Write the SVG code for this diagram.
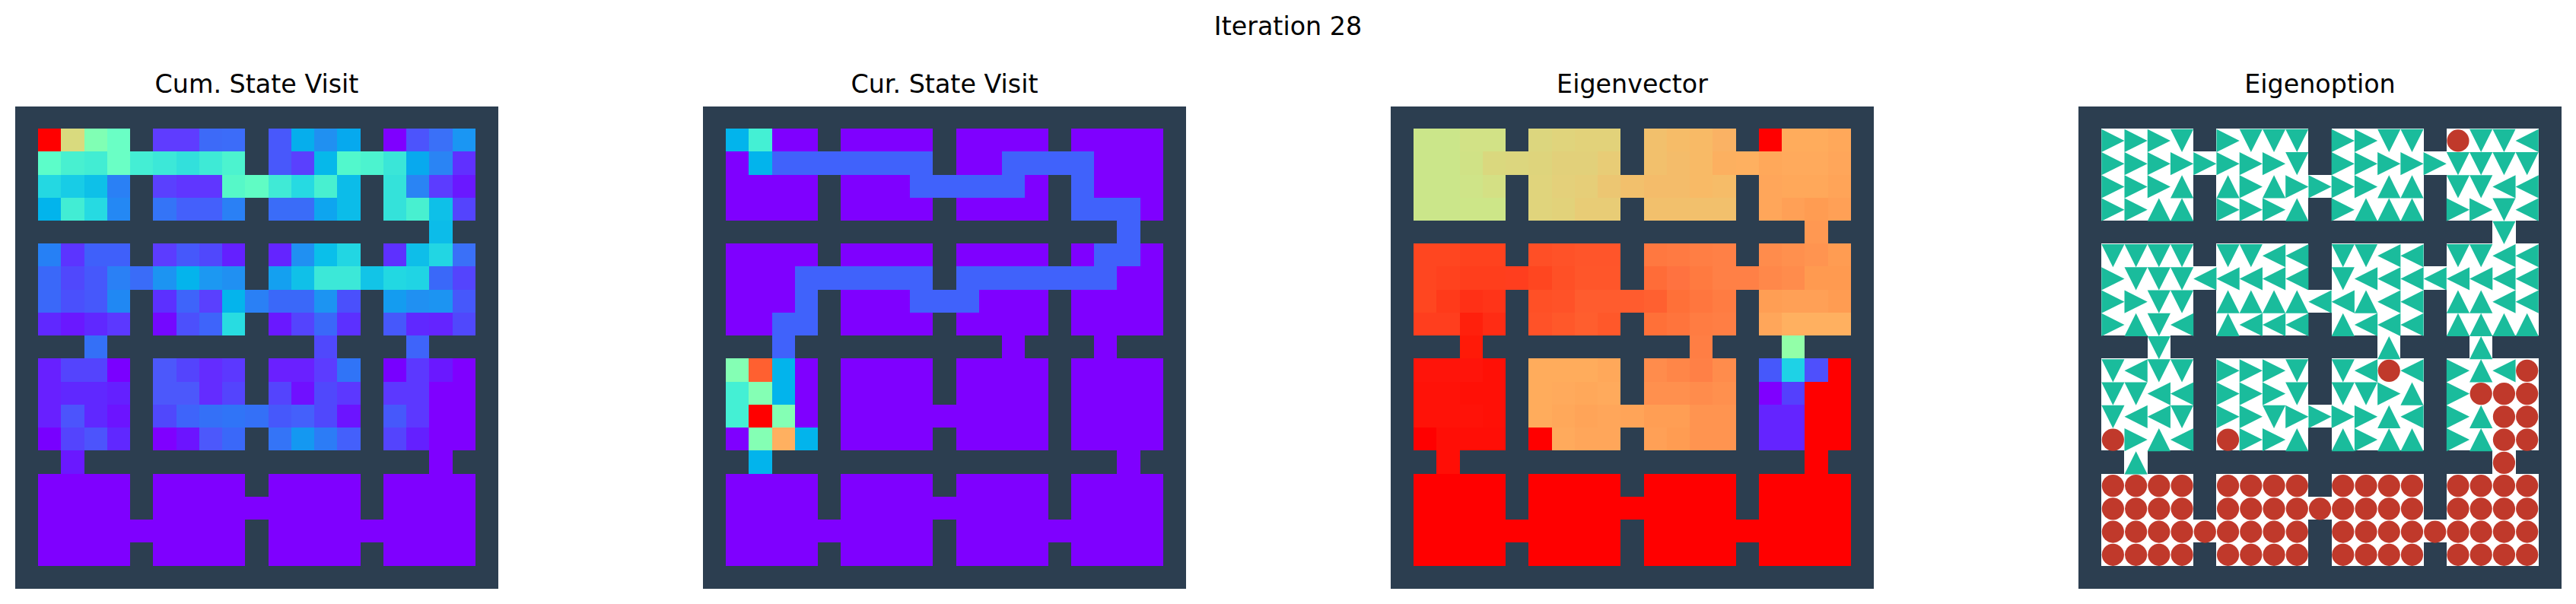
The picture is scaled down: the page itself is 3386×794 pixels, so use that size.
<svg xmlns="http://www.w3.org/2000/svg" width="3386" height="794" viewBox="0 0 3386 794">
<style>
text{font-family:"DejaVu Sans",sans-serif;font-size:33.33px;fill:#000;text-anchor:middle}
.wall{fill:#2c3e50}
.grid{shape-rendering:crispEdges}
.tri{fill:#1abc9c}
.dot{fill:#c0392b}
</style>
<defs>
<rect id="c" width="1" height="1"/>
<g id="floor">
<rect x="1" y="1" width="4" height="4"/><rect x="6" y="1" width="4" height="4"/><rect x="11" y="1" width="4" height="4"/><rect x="16" y="1" width="4" height="4"/>
<rect x="1" y="6" width="4" height="4"/><rect x="6" y="6" width="4" height="4"/><rect x="11" y="6" width="4" height="4"/><rect x="16" y="6" width="4" height="4"/>
<rect x="1" y="11" width="4" height="4"/><rect x="6" y="11" width="4" height="4"/><rect x="11" y="11" width="4" height="4"/><rect x="16" y="11" width="4" height="4"/>
<rect x="1" y="16" width="4" height="4"/><rect x="6" y="16" width="4" height="4"/><rect x="11" y="16" width="4" height="4"/><rect x="16" y="16" width="4" height="4"/>
<rect x="5" y="2" width="1" height="1"/><rect x="15" y="2" width="1" height="1"/><rect x="10" y="3" width="1" height="1"/><rect x="18" y="5" width="1" height="1"/>
<rect x="5" y="7" width="1" height="1"/><rect x="15" y="7" width="1" height="1"/><rect x="10" y="8" width="1" height="1"/>
<rect x="3" y="10" width="1" height="1"/><rect x="13" y="10" width="1" height="1"/><rect x="17" y="10" width="1" height="1"/>
<rect x="10" y="13" width="1" height="1"/><rect x="2" y="15" width="1" height="1"/><rect x="18" y="15" width="1" height="1"/>
<rect x="10" y="17" width="1" height="1"/><rect x="5" y="18" width="1" height="1"/><rect x="15" y="18" width="1" height="1"/>
</g>
<polygon id="R" class="tri" points="-0.5,-0.5 0.5,0 -0.5,0.5"/>
<polygon id="L" class="tri" points="0.5,-0.5 -0.5,0 0.5,0.5"/>
<polygon id="D" class="tri" points="-0.5,-0.5 0.5,-0.5 0,0.5"/>
<polygon id="U" class="tri" points="-0.5,0.5 0.5,0.5 0,-0.5"/>
<circle id="O" class="dot" r="0.483"/>
</defs>
<rect width="3386" height="794" fill="#fff"/>
<text id="suptitle" x="1693" y="45.5">Iteration 28</text>

<g id="panel-cum-state-visit">
<text x="337.5" y="122">Cum. State Visit</text>
<rect class="wall" x="20" y="140" width="635" height="634"/>
<g class="grid" transform="translate(20,138.8) scale(30.24)">
<use href="#floor" fill="#7f00ff"/>
<use href="#c" x="1" y="1" fill="#ff0000"/><use href="#c" x="2" y="1" fill="#d9da7e"/><use href="#c" x="3" y="1" fill="#80ffb4"/><use href="#c" x="4" y="1" fill="#6affc5"/>
<use href="#c" x="6" y="1" fill="#5f3cff"/><use href="#c" x="7" y="1" fill="#5f3cff"/><use href="#c" x="8" y="1" fill="#3d6af8"/><use href="#c" x="9" y="1" fill="#3c6cf9"/>
<use href="#c" x="11" y="1" fill="#4858fb"/><use href="#c" x="12" y="1" fill="#06aeec"/><use href="#c" x="13" y="1" fill="#2090f1"/><use href="#c" x="14" y="1" fill="#06a9ee"/>
<use href="#c" x="16" y="1" fill="#7f00ff"/><use href="#c" x="17" y="1" fill="#4c54fc"/><use href="#c" x="18" y="1" fill="#3a70f8"/><use href="#c" x="19" y="1" fill="#1a96f3"/>
<use href="#c" x="1" y="2" fill="#5cfdc9"/><use href="#c" x="2" y="2" fill="#48f0d0"/><use href="#c" x="3" y="2" fill="#42edd3"/><use href="#c" x="4" y="2" fill="#6affc5"/><use href="#c" x="5" y="2" fill="#44eed4"/>
<use href="#c" x="6" y="2" fill="#3ce8d8"/><use href="#c" x="7" y="2" fill="#32e0dc"/><use href="#c" x="8" y="2" fill="#3eead6"/><use href="#c" x="9" y="2" fill="#4cf3cf"/>
<use href="#c" x="11" y="2" fill="#4858fb"/><use href="#c" x="12" y="2" fill="#5a40fe"/><use href="#c" x="13" y="2" fill="#06b8ea"/><use href="#c" x="14" y="2" fill="#52f8cc"/><use href="#c" x="15" y="2" fill="#4cf3cf"/>
<use href="#c" x="16" y="2" fill="#3ae6d8"/><use href="#c" x="17" y="2" fill="#08a9ee"/><use href="#c" x="18" y="2" fill="#2a84f4"/><use href="#c" x="19" y="2" fill="#6030ff"/>
<use href="#c" x="1" y="3" fill="#24d8e2"/><use href="#c" x="2" y="3" fill="#18cce6"/><use href="#c" x="3" y="3" fill="#0ec0e8"/><use href="#c" x="4" y="3" fill="#2a80f5"/>
<use href="#c" x="6" y="3" fill="#5a40fe"/><use href="#c" x="7" y="3" fill="#6036ff"/><use href="#c" x="8" y="3" fill="#6036ff"/><use href="#c" x="9" y="3" fill="#56f8c8"/><use href="#c" x="10" y="3" fill="#60fcc4"/>
<use href="#c" x="11" y="3" fill="#40ead6"/><use href="#c" x="12" y="3" fill="#26dae2"/><use href="#c" x="13" y="3" fill="#48f0d0"/><use href="#c" x="14" y="3" fill="#0cbce9"/>
<use href="#c" x="16" y="3" fill="#34e2da"/><use href="#c" x="17" y="3" fill="#2a84f4"/><use href="#c" x="18" y="3" fill="#5c3cff"/><use href="#c" x="19" y="3" fill="#6a18ff"/>
<use href="#c" x="1" y="4" fill="#02b4ec"/><use href="#c" x="2" y="4" fill="#42edd4"/><use href="#c" x="3" y="4" fill="#26dae2"/><use href="#c" x="4" y="4" fill="#2488f4"/>
<use href="#c" x="6" y="4" fill="#3474f7"/><use href="#c" x="7" y="4" fill="#4460fb"/><use href="#c" x="8" y="4" fill="#4460fb"/><use href="#c" x="9" y="4" fill="#2a80f5"/>
<use href="#c" x="11" y="4" fill="#3a6cf8"/><use href="#c" x="12" y="4" fill="#3a6cf8"/><use href="#c" x="13" y="4" fill="#0ea5ef"/><use href="#c" x="14" y="4" fill="#0cbce9"/>
<use href="#c" x="16" y="4" fill="#34e2da"/><use href="#c" x="17" y="4" fill="#48f0d0"/><use href="#c" x="18" y="4" fill="#0ec0e8"/><use href="#c" x="19" y="4" fill="#5444fd"/>
<use href="#c" x="18" y="5" fill="#0cbce9"/>
<use href="#c" x="1" y="6" fill="#2680f5"/><use href="#c" x="2" y="6" fill="#5c34ff"/><use href="#c" x="3" y="6" fill="#3f60fa"/><use href="#c" x="4" y="6" fill="#3f60fa"/>
<use href="#c" x="6" y="6" fill="#5c3cff"/><use href="#c" x="7" y="6" fill="#4658fb"/><use href="#c" x="8" y="6" fill="#5048fc"/><use href="#c" x="9" y="6" fill="#6420ff"/>
<use href="#c" x="11" y="6" fill="#6424ff"/><use href="#c" x="12" y="6" fill="#2090f2"/><use href="#c" x="13" y="6" fill="#0abfea"/><use href="#c" x="14" y="6" fill="#22d6e3"/>
<use href="#c" x="16" y="6" fill="#5e30ff"/><use href="#c" x="17" y="6" fill="#0ebee9"/><use href="#c" x="18" y="6" fill="#22d6e3"/><use href="#c" x="19" y="6" fill="#3a70f8"/>
<use href="#c" x="1" y="7" fill="#3a68f9"/><use href="#c" x="2" y="7" fill="#5048fc"/><use href="#c" x="3" y="7" fill="#4658fb"/><use href="#c" x="4" y="7" fill="#2a80f5"/><use href="#c" x="5" y="7" fill="#3a6cf8"/>
<use href="#c" x="6" y="7" fill="#1c94f2"/><use href="#c" x="7" y="7" fill="#04b4ec"/><use href="#c" x="8" y="7" fill="#1c98f2"/><use href="#c" x="9" y="7" fill="#2090f2"/>
<use href="#c" x="11" y="7" fill="#14a0f0"/><use href="#c" x="12" y="7" fill="#10c0e8"/><use href="#c" x="13" y="7" fill="#3ce8d8"/><use href="#c" x="14" y="7" fill="#3ce8d8"/><use href="#c" x="15" y="7" fill="#12c4e7"/>
<use href="#c" x="16" y="7" fill="#22d8e2"/><use href="#c" x="17" y="7" fill="#20d4e4"/><use href="#c" x="18" y="7" fill="#3a68f9"/><use href="#c" x="19" y="7" fill="#5444fd"/>
<use href="#c" x="1" y="8" fill="#3a68f9"/><use href="#c" x="2" y="8" fill="#4a50fc"/><use href="#c" x="3" y="8" fill="#4658fb"/><use href="#c" x="4" y="8" fill="#2088f3"/>
<use href="#c" x="6" y="8" fill="#5c30ff"/><use href="#c" x="7" y="8" fill="#3e64fa"/><use href="#c" x="8" y="8" fill="#5a40fe"/><use href="#c" x="9" y="8" fill="#04b4ec"/><use href="#c" x="10" y="8" fill="#2a80f5"/>
<use href="#c" x="11" y="8" fill="#3a68f9"/><use href="#c" x="12" y="8" fill="#3a68f9"/><use href="#c" x="13" y="8" fill="#1c94f2"/><use href="#c" x="14" y="8" fill="#4a50fc"/>
<use href="#c" x="16" y="8" fill="#149cf0"/><use href="#c" x="17" y="8" fill="#2090f2"/><use href="#c" x="18" y="8" fill="#1c94f2"/><use href="#c" x="19" y="8" fill="#4658fb"/>
<use href="#c" x="1" y="9" fill="#6028ff"/><use href="#c" x="2" y="9" fill="#6a18ff"/><use href="#c" x="3" y="9" fill="#6028ff"/><use href="#c" x="4" y="9" fill="#5c38ff"/>
<use href="#c" x="6" y="9" fill="#7408ff"/><use href="#c" x="7" y="9" fill="#4c50fc"/><use href="#c" x="8" y="9" fill="#3e64fa"/><use href="#c" x="9" y="9" fill="#28dce1"/>
<use href="#c" x="11" y="9" fill="#6a18ff"/><use href="#c" x="12" y="9" fill="#5444fd"/><use href="#c" x="13" y="9" fill="#3a68f9"/><use href="#c" x="14" y="9" fill="#5c30ff"/>
<use href="#c" x="16" y="9" fill="#4658fb"/><use href="#c" x="17" y="9" fill="#6028ff"/><use href="#c" x="18" y="9" fill="#6424ff"/><use href="#c" x="19" y="9" fill="#5048fc"/>
<use href="#c" x="3" y="10" fill="#3470f7"/><use href="#c" x="13" y="10" fill="#5048fc"/><use href="#c" x="17" y="10" fill="#3e64fa"/>
<use href="#c" x="1" y="11" fill="#6820ff"/><use href="#c" x="2" y="11" fill="#5444fd"/><use href="#c" x="3" y="11" fill="#5444fd"/><use href="#c" x="4" y="11" fill="#7a00ff"/>
<use href="#c" x="6" y="11" fill="#4c58fb"/><use href="#c" x="7" y="11" fill="#5444fd"/><use href="#c" x="8" y="11" fill="#642cff"/><use href="#c" x="9" y="11" fill="#5c38ff"/>
<use href="#c" x="11" y="11" fill="#6a20ff"/><use href="#c" x="12" y="11" fill="#6a20ff"/><use href="#c" x="13" y="11" fill="#5c3cff"/><use href="#c" x="14" y="11" fill="#3074f7"/>
<use href="#c" x="16" y="11" fill="#7800ff"/><use href="#c" x="17" y="11" fill="#5c38ff"/><use href="#c" x="18" y="11" fill="#6a18ff"/>
<use href="#c" x="1" y="12" fill="#6820ff"/><use href="#c" x="2" y="12" fill="#6028ff"/><use href="#c" x="3" y="12" fill="#6028ff"/><use href="#c" x="4" y="12" fill="#6420ff"/>
<use href="#c" x="6" y="12" fill="#4c58fb"/><use href="#c" x="7" y="12" fill="#4c58fb"/><use href="#c" x="8" y="12" fill="#642cff"/><use href="#c" x="9" y="12" fill="#5444fd"/>
<use href="#c" x="11" y="12" fill="#5444fd"/><use href="#c" x="12" y="12" fill="#7010ff"/><use href="#c" x="13" y="12" fill="#5048fc"/><use href="#c" x="14" y="12" fill="#5c38ff"/>
<use href="#c" x="16" y="12" fill="#5c38ff"/><use href="#c" x="17" y="12" fill="#5c38ff"/>
<use href="#c" x="1" y="13" fill="#6820ff"/><use href="#c" x="2" y="13" fill="#4c54fc"/><use href="#c" x="3" y="13" fill="#6028ff"/><use href="#c" x="4" y="13" fill="#6c14ff"/>
<use href="#c" x="6" y="13" fill="#5048fc"/><use href="#c" x="7" y="13" fill="#3e64fa"/><use href="#c" x="8" y="13" fill="#3470f7"/><use href="#c" x="9" y="13" fill="#3074f7"/><use href="#c" x="10" y="13" fill="#3470f7"/>
<use href="#c" x="11" y="13" fill="#4658fb"/><use href="#c" x="12" y="13" fill="#4460fb"/><use href="#c" x="13" y="13" fill="#5048fc"/><use href="#c" x="14" y="13" fill="#6c14ff"/>
<use href="#c" x="16" y="13" fill="#4658fb"/><use href="#c" x="17" y="13" fill="#5c38ff"/>
<use href="#c" x="1" y="14" fill="#7800ff"/><use href="#c" x="2" y="14" fill="#5444fd"/><use href="#c" x="3" y="14" fill="#4c54fc"/><use href="#c" x="4" y="14" fill="#6028ff"/>
<use href="#c" x="7" y="14" fill="#6c14ff"/><use href="#c" x="8" y="14" fill="#4c58fb"/><use href="#c" x="9" y="14" fill="#3a68f9"/>
<use href="#c" x="11" y="14" fill="#3474f7"/><use href="#c" x="12" y="14" fill="#1498f1"/><use href="#c" x="13" y="14" fill="#2c7cf6"/><use href="#c" x="14" y="14" fill="#4460fb"/>
<use href="#c" x="16" y="14" fill="#5444fd"/><use href="#c" x="17" y="14" fill="#6420ff"/>
<use href="#c" x="2" y="15" fill="#6a18ff"/>
</g>
</g>

<g id="panel-cur-state-visit">
<text x="1241.5" y="122">Cur. State Visit</text>
<rect class="wall" x="924" y="140" width="635" height="634"/>
<g class="grid" transform="translate(924,138.8) scale(30.24)">
<use href="#floor" fill="#7f00ff"/>
<g fill="#4062fb">
<rect x="3" y="2" width="7" height="1"/><rect x="13" y="2" width="4" height="1"/>
<rect x="9" y="3" width="5" height="1"/><rect x="16" y="3" width="1" height="1"/>
<rect x="16" y="4" width="3" height="1"/><rect x="18" y="5" width="1" height="1"/><rect x="17" y="6" width="2" height="1"/>
<rect x="4" y="7" width="6" height="1"/><rect x="11" y="7" width="7" height="1"/>
<rect x="4" y="8" width="1" height="1"/><rect x="9" y="8" width="3" height="1"/>
<rect x="3" y="9" width="2" height="1"/><rect x="3" y="10" width="1" height="1"/>
</g>
<g fill="#02b4ec"><use href="#c" x="1" y="1"/><use href="#c" x="2" y="2"/><use href="#c" x="3" y="11"/><use href="#c" x="3" y="12"/><use href="#c" x="4" y="14"/><use href="#c" x="2" y="15"/></g>
<g fill="#44f0d4"><use href="#c" x="2" y="1"/><use href="#c" x="1" y="12"/><use href="#c" x="1" y="13"/></g>
<g fill="#84ffb4"><use href="#c" x="1" y="11"/><use href="#c" x="2" y="12"/><use href="#c" x="3" y="13"/><use href="#c" x="2" y="14"/></g>
<use href="#c" x="2" y="11" fill="#ff6030"/><use href="#c" x="2" y="13" fill="#ff0000"/><use href="#c" x="3" y="14" fill="#ffb060"/>
</g>
</g>

<g id="panel-eigenvector">
<text x="2145.5" y="122">Eigenvector</text>
<rect class="wall" x="1828" y="140" width="635" height="634"/>
<g class="grid" transform="translate(1828,138.8) scale(30.24)">
<use href="#floor" fill="#ff0000"/>
<use href="#c" x="1" y="1" fill="#cbe68a"/><use href="#c" x="2" y="1" fill="#cbe68a"/><use href="#c" x="3" y="1" fill="#d2e286"/><use href="#c" x="4" y="1" fill="#d2e286"/>
<use href="#c" x="6" y="1" fill="#dcd67e"/><use href="#c" x="7" y="1" fill="#e0d47c"/><use href="#c" x="8" y="1" fill="#e2d27a"/><use href="#c" x="9" y="1" fill="#e2d27a"/>
<use href="#c" x="11" y="1" fill="#f2c06c"/><use href="#c" x="12" y="1" fill="#f6bc68"/><use href="#c" x="13" y="1" fill="#f8ba66"/><use href="#c" x="14" y="1" fill="#fab264"/>
<use href="#c" x="17" y="1" fill="#ffac5c"/><use href="#c" x="18" y="1" fill="#ffac5c"/><use href="#c" x="19" y="1" fill="#ffa85a"/>
<use href="#c" x="1" y="2" fill="#cbe68a"/><use href="#c" x="2" y="2" fill="#cbe68a"/><use href="#c" x="3" y="2" fill="#d0e286"/><use href="#c" x="4" y="2" fill="#dad87e"/><use href="#c" x="5" y="2" fill="#dcd67e"/>
<use href="#c" x="6" y="2" fill="#ded47c"/><use href="#c" x="7" y="2" fill="#e2d07a"/><use href="#c" x="8" y="2" fill="#e2d07a"/><use href="#c" x="9" y="2" fill="#e8cc76"/>
<use href="#c" x="11" y="2" fill="#f2c06c"/><use href="#c" x="12" y="2" fill="#f4bc6a"/><use href="#c" x="13" y="2" fill="#f8ba66"/><use href="#c" x="14" y="2" fill="#fcb060"/><use href="#c" x="15" y="2" fill="#feb060"/>
<use href="#c" x="16" y="2" fill="#ffa85a"/><use href="#c" x="17" y="2" fill="#ffaa5c"/><use href="#c" x="18" y="2" fill="#ffaa5c"/><use href="#c" x="19" y="2" fill="#ffa65a"/>
<use href="#c" x="1" y="3" fill="#cbe68a"/><use href="#c" x="2" y="3" fill="#cbe68a"/><use href="#c" x="3" y="3" fill="#cfe488"/><use href="#c" x="4" y="3" fill="#d4e084"/>
<use href="#c" x="6" y="3" fill="#e0d47c"/><use href="#c" x="7" y="3" fill="#e4d07a"/><use href="#c" x="8" y="3" fill="#e6ce78"/><use href="#c" x="9" y="3" fill="#ecc672"/><use href="#c" x="10" y="3" fill="#f2c06c"/>
<use href="#c" x="11" y="3" fill="#f4bc6a"/><use href="#c" x="12" y="3" fill="#f4bc6a"/><use href="#c" x="13" y="3" fill="#f8ba66"/><use href="#c" x="14" y="3" fill="#f6bc68"/>
<use href="#c" x="16" y="3" fill="#ffa65a"/><use href="#c" x="17" y="3" fill="#ffa85a"/><use href="#c" x="18" y="3" fill="#ffa85a"/><use href="#c" x="19" y="3" fill="#ffa458"/>
<use href="#c" x="1" y="4" fill="#cbe68a"/><use href="#c" x="2" y="4" fill="#cbe68a"/><use href="#c" x="3" y="4" fill="#cde688"/><use href="#c" x="4" y="4" fill="#cde688"/>
<use href="#c" x="6" y="4" fill="#e0d47c"/><use href="#c" x="7" y="4" fill="#e2d27a"/><use href="#c" x="8" y="4" fill="#e8cc76"/><use href="#c" x="9" y="4" fill="#e8cc76"/>
<use href="#c" x="11" y="4" fill="#f2c06c"/><use href="#c" x="12" y="4" fill="#f2c06c"/><use href="#c" x="13" y="4" fill="#f2c06c"/><use href="#c" x="14" y="4" fill="#f2c06c"/>
<use href="#c" x="16" y="4" fill="#ffa65a"/><use href="#c" x="17" y="4" fill="#ffa056"/><use href="#c" x="18" y="4" fill="#ff9c52"/><use href="#c" x="19" y="4" fill="#ffa056"/>
<use href="#c" x="18" y="5" fill="#ff9852"/>
<use href="#c" x="1" y="6" fill="#ff4620"/><use href="#c" x="2" y="6" fill="#ff4620"/><use href="#c" x="3" y="6" fill="#ff421e"/><use href="#c" x="4" y="6" fill="#ff421e"/>
<use href="#c" x="6" y="6" fill="#ff4f26"/><use href="#c" x="7" y="6" fill="#ff5228"/><use href="#c" x="8" y="6" fill="#ff552a"/><use href="#c" x="9" y="6" fill="#ff552a"/>
<use href="#c" x="11" y="6" fill="#ff7840"/><use href="#c" x="12" y="6" fill="#ff7a42"/><use href="#c" x="13" y="6" fill="#ff7e44"/><use href="#c" x="14" y="6" fill="#ff8046"/>
<use href="#c" x="16" y="6" fill="#ff8c4c"/><use href="#c" x="17" y="6" fill="#ff904e"/><use href="#c" x="18" y="6" fill="#ff9450"/><use href="#c" x="19" y="6" fill="#ff9c52"/>
<use href="#c" x="1" y="7" fill="#ff4620"/><use href="#c" x="2" y="7" fill="#ff421e"/><use href="#c" x="3" y="7" fill="#ff3e1c"/><use href="#c" x="4" y="7" fill="#ff3e1c"/><use href="#c" x="5" y="7" fill="#ff3e1e"/>
<use href="#c" x="6" y="7" fill="#ff4620"/><use href="#c" x="7" y="7" fill="#ff5026"/><use href="#c" x="8" y="7" fill="#ff562a"/><use href="#c" x="9" y="7" fill="#ff562a"/>
<use href="#c" x="11" y="7" fill="#ff6c38"/><use href="#c" x="12" y="7" fill="#ff7240"/><use href="#c" x="13" y="7" fill="#ff7a40"/><use href="#c" x="14" y="7" fill="#ff8046"/><use href="#c" x="15" y="7" fill="#ff8046"/>
<use href="#c" x="16" y="7" fill="#ff884a"/><use href="#c" x="17" y="7" fill="#ff8c4c"/><use href="#c" x="18" y="7" fill="#ff9a50"/><use href="#c" x="19" y="7" fill="#ff9a50"/>
<use href="#c" x="1" y="8" fill="#ff4620"/><use href="#c" x="2" y="8" fill="#ff3a1a"/><use href="#c" x="3" y="8" fill="#ff3016"/><use href="#c" x="4" y="8" fill="#ff3418"/>
<use href="#c" x="6" y="8" fill="#ff5026"/><use href="#c" x="7" y="8" fill="#ff5228"/><use href="#c" x="8" y="8" fill="#ff5c2e"/><use href="#c" x="9" y="8" fill="#ff5c2e"/><use href="#c" x="10" y="8" fill="#ff5c2e"/>
<use href="#c" x="11" y="8" fill="#ff6030"/><use href="#c" x="12" y="8" fill="#ff7038"/><use href="#c" x="13" y="8" fill="#ff763e"/><use href="#c" x="14" y="8" fill="#ff7c42"/>
<use href="#c" x="16" y="8" fill="#ff9e54"/><use href="#c" x="17" y="8" fill="#ffa056"/><use href="#c" x="18" y="8" fill="#ffa056"/><use href="#c" x="19" y="8" fill="#ff9c52"/>
<use href="#c" x="1" y="9" fill="#ff3e1e"/><use href="#c" x="2" y="9" fill="#ff3e1e"/><use href="#c" x="3" y="9" fill="#ff200c"/><use href="#c" x="4" y="9" fill="#ff2c14"/>
<use href="#c" x="6" y="9" fill="#ff5228"/><use href="#c" x="7" y="9" fill="#ff582a"/><use href="#c" x="8" y="9" fill="#ff5e2e"/><use href="#c" x="9" y="9" fill="#ff582a"/>
<use href="#c" x="11" y="9" fill="#ff7038"/><use href="#c" x="12" y="9" fill="#ff743c"/><use href="#c" x="13" y="9" fill="#ff7c42"/><use href="#c" x="14" y="9" fill="#ff7e44"/>
<use href="#c" x="16" y="9" fill="#ffa65a"/><use href="#c" x="17" y="9" fill="#ffb060"/><use href="#c" x="18" y="9" fill="#ffb060"/><use href="#c" x="19" y="9" fill="#ffb060"/>
<use href="#c" x="3" y="10" fill="#ff1a08"/><use href="#c" x="13" y="10" fill="#ff7e44"/><use href="#c" x="17" y="10" fill="#92ffa8"/>
<use href="#c" x="1" y="11" fill="#ff140a"/><use href="#c" x="2" y="11" fill="#ff140a"/><use href="#c" x="3" y="11" fill="#ff140a"/><use href="#c" x="4" y="11" fill="#ff1006"/>
<use href="#c" x="6" y="11" fill="#ffac5c"/><use href="#c" x="7" y="11" fill="#ffac5c"/><use href="#c" x="8" y="11" fill="#ffac5c"/><use href="#c" x="9" y="11" fill="#ffa85a"/>
<use href="#c" x="11" y="11" fill="#ff8c4c"/><use href="#c" x="12" y="11" fill="#ff8648"/><use href="#c" x="13" y="11" fill="#ff8046"/><use href="#c" x="14" y="11" fill="#ff8c4c"/>
<use href="#c" x="16" y="11" fill="#4658fb"/><use href="#c" x="17" y="11" fill="#1ed2e6"/><use href="#c" x="18" y="11" fill="#4e50fc"/>
<use href="#c" x="1" y="12" fill="#ff1208"/><use href="#c" x="2" y="12" fill="#ff1208"/><use href="#c" x="3" y="12" fill="#ff1006"/><use href="#c" x="4" y="12" fill="#ff1006"/>
<use href="#c" x="6" y="12" fill="#ffac5c"/><use href="#c" x="7" y="12" fill="#ffaa5c"/><use href="#c" x="8" y="12" fill="#ffa85a"/><use href="#c" x="9" y="12" fill="#ffaa5c"/>
<use href="#c" x="11" y="12" fill="#ff904e"/><use href="#c" x="12" y="12" fill="#ff904e"/><use href="#c" x="13" y="12" fill="#ff8c4c"/><use href="#c" x="14" y="12" fill="#ff904e"/>
<use href="#c" x="16" y="12" fill="#7f00ff"/><use href="#c" x="17" y="12" fill="#5440fd"/>
<use href="#c" x="1" y="13" fill="#ff1208"/><use href="#c" x="2" y="13" fill="#ff1208"/><use href="#c" x="3" y="13" fill="#ff1208"/><use href="#c" x="4" y="13" fill="#ff1006"/>
<use href="#c" x="6" y="13" fill="#ffac5c"/><use href="#c" x="7" y="13" fill="#ffa85a"/><use href="#c" x="8" y="13" fill="#ffa458"/><use href="#c" x="9" y="13" fill="#ffa65a"/><use href="#c" x="10" y="13" fill="#ffa458"/>
<use href="#c" x="11" y="13" fill="#ff9e54"/><use href="#c" x="12" y="13" fill="#ff9e54"/><use href="#c" x="13" y="13" fill="#ff9450"/><use href="#c" x="14" y="13" fill="#ff9450"/>
<use href="#c" x="16" y="13" fill="#6424ff"/><use href="#c" x="17" y="13" fill="#6424ff"/>
<use href="#c" x="2" y="14" fill="#ff0e06"/><use href="#c" x="3" y="14" fill="#ff0e06"/><use href="#c" x="4" y="14" fill="#ff0e06"/>
<use href="#c" x="7" y="14" fill="#ffaa5c"/><use href="#c" x="8" y="14" fill="#ffa65a"/><use href="#c" x="9" y="14" fill="#ffa65a"/>
<use href="#c" x="11" y="14" fill="#ffa056"/><use href="#c" x="12" y="14" fill="#ff9c52"/><use href="#c" x="13" y="14" fill="#ff9450"/><use href="#c" x="14" y="14" fill="#ff9450"/>
<use href="#c" x="16" y="14" fill="#6424ff"/><use href="#c" x="17" y="14" fill="#6424ff"/>
<use href="#c" x="2" y="15" fill="#ff0e06"/>
</g>
</g>

<g id="panel-eigenoption">
<text x="3049.5" y="122">Eigenoption</text>
<rect class="wall" x="2732" y="140" width="635" height="634"/>
<g class="grid" transform="translate(2732,138.8) scale(30.24)"><use href="#floor" fill="#fff"/></g>
<g transform="translate(2732,139.6) scale(30.24)">
<use href="#R" x="1.5" y="1.5"/><use href="#R" x="2.5" y="1.5"/><use href="#R" x="3.5" y="1.5"/><use href="#D" x="4.5" y="1.5"/>
<use href="#R" x="6.5" y="1.5"/><use href="#D" x="7.5" y="1.5"/><use href="#D" x="8.5" y="1.5"/><use href="#D" x="9.5" y="1.5"/>
<use href="#R" x="11.5" y="1.5"/><use href="#R" x="12.5" y="1.5"/><use href="#D" x="13.5" y="1.5"/><use href="#D" x="14.5" y="1.5"/>
<use href="#O" x="16.5" y="1.5"/><use href="#D" x="17.5" y="1.5"/><use href="#D" x="18.5" y="1.5"/><use href="#L" x="19.5" y="1.5"/>
<use href="#R" x="1.5" y="2.5"/><use href="#R" x="2.5" y="2.5"/><use href="#R" x="3.5" y="2.5"/><use href="#R" x="4.5" y="2.5"/><use href="#R" x="5.5" y="2.5"/>
<use href="#R" x="6.5" y="2.5"/><use href="#R" x="7.5" y="2.5"/><use href="#R" x="8.5" y="2.5"/><use href="#D" x="9.5" y="2.5"/>
<use href="#R" x="11.5" y="2.5"/><use href="#R" x="12.5" y="2.5"/><use href="#R" x="13.5" y="2.5"/><use href="#R" x="14.5" y="2.5"/><use href="#R" x="15.5" y="2.5"/>
<use href="#D" x="16.5" y="2.5"/><use href="#D" x="17.5" y="2.5"/><use href="#D" x="18.5" y="2.5"/><use href="#D" x="19.5" y="2.5"/>
<use href="#R" x="1.5" y="3.5"/><use href="#R" x="2.5" y="3.5"/><use href="#R" x="3.5" y="3.5"/><use href="#U" x="4.5" y="3.5"/>
<use href="#U" x="6.5" y="3.5"/><use href="#R" x="7.5" y="3.5"/><use href="#U" x="8.5" y="3.5"/><use href="#R" x="9.5" y="3.5"/><use href="#R" x="10.5" y="3.5"/>
<use href="#R" x="11.5" y="3.5"/><use href="#R" x="12.5" y="3.5"/><use href="#U" x="13.5" y="3.5"/><use href="#U" x="14.5" y="3.5"/>
<use href="#D" x="16.5" y="3.5"/><use href="#D" x="17.5" y="3.5"/><use href="#L" x="18.5" y="3.5"/><use href="#L" x="19.5" y="3.5"/>
<use href="#R" x="1.5" y="4.5"/><use href="#R" x="2.5" y="4.5"/><use href="#U" x="3.5" y="4.5"/><use href="#U" x="4.5" y="4.5"/>
<use href="#R" x="6.5" y="4.5"/><use href="#R" x="7.5" y="4.5"/><use href="#R" x="8.5" y="4.5"/><use href="#U" x="9.5" y="4.5"/>
<use href="#R" x="11.5" y="4.5"/><use href="#U" x="12.5" y="4.5"/><use href="#U" x="13.5" y="4.5"/><use href="#U" x="14.5" y="4.5"/>
<use href="#R" x="16.5" y="4.5"/><use href="#R" x="17.5" y="4.5"/><use href="#D" x="18.5" y="4.5"/><use href="#L" x="19.5" y="4.5"/>
<use href="#D" x="18.5" y="5.5"/>
<use href="#D" x="1.5" y="6.5"/><use href="#D" x="2.5" y="6.5"/><use href="#D" x="3.5" y="6.5"/><use href="#D" x="4.5" y="6.5"/>
<use href="#D" x="6.5" y="6.5"/><use href="#D" x="7.5" y="6.5"/><use href="#L" x="8.5" y="6.5"/><use href="#L" x="9.5" y="6.5"/>
<use href="#D" x="11.5" y="6.5"/><use href="#D" x="12.5" y="6.5"/><use href="#L" x="13.5" y="6.5"/><use href="#L" x="14.5" y="6.5"/>
<use href="#D" x="16.5" y="6.5"/><use href="#D" x="17.5" y="6.5"/><use href="#L" x="18.5" y="6.5"/><use href="#L" x="19.5" y="6.5"/>
<use href="#R" x="1.5" y="7.5"/><use href="#D" x="2.5" y="7.5"/><use href="#D" x="3.5" y="7.5"/><use href="#D" x="4.5" y="7.5"/><use href="#L" x="5.5" y="7.5"/>
<use href="#L" x="6.5" y="7.5"/><use href="#L" x="7.5" y="7.5"/><use href="#L" x="8.5" y="7.5"/><use href="#L" x="9.5" y="7.5"/>
<use href="#D" x="11.5" y="7.5"/><use href="#L" x="12.5" y="7.5"/><use href="#L" x="13.5" y="7.5"/><use href="#L" x="14.5" y="7.5"/><use href="#L" x="15.5" y="7.5"/>
<use href="#L" x="16.5" y="7.5"/><use href="#L" x="17.5" y="7.5"/><use href="#L" x="18.5" y="7.5"/><use href="#L" x="19.5" y="7.5"/>
<use href="#R" x="1.5" y="8.5"/><use href="#R" x="2.5" y="8.5"/><use href="#D" x="3.5" y="8.5"/><use href="#D" x="4.5" y="8.5"/>
<use href="#U" x="6.5" y="8.5"/><use href="#U" x="7.5" y="8.5"/><use href="#U" x="8.5" y="8.5"/><use href="#U" x="9.5" y="8.5"/><use href="#L" x="10.5" y="8.5"/>
<use href="#L" x="11.5" y="8.5"/><use href="#U" x="12.5" y="8.5"/><use href="#L" x="13.5" y="8.5"/><use href="#L" x="14.5" y="8.5"/>
<use href="#U" x="16.5" y="8.5"/><use href="#U" x="17.5" y="8.5"/><use href="#L" x="18.5" y="8.5"/><use href="#L" x="19.5" y="8.5"/>
<use href="#R" x="1.5" y="9.5"/><use href="#U" x="2.5" y="9.5"/><use href="#D" x="3.5" y="9.5"/><use href="#L" x="4.5" y="9.5"/>
<use href="#U" x="6.5" y="9.5"/><use href="#L" x="7.5" y="9.5"/><use href="#L" x="8.5" y="9.5"/><use href="#L" x="9.5" y="9.5"/>
<use href="#U" x="11.5" y="9.5"/><use href="#L" x="12.5" y="9.5"/><use href="#L" x="13.5" y="9.5"/><use href="#L" x="14.5" y="9.5"/>
<use href="#U" x="16.5" y="9.5"/><use href="#U" x="17.5" y="9.5"/><use href="#U" x="18.5" y="9.5"/><use href="#U" x="19.5" y="9.5"/>
<use href="#D" x="3.5" y="10.5"/><use href="#U" x="13.5" y="10.5"/><use href="#U" x="17.5" y="10.5"/>
<use href="#D" x="1.5" y="11.5"/><use href="#L" x="2.5" y="11.5"/><use href="#D" x="3.5" y="11.5"/><use href="#D" x="4.5" y="11.5"/>
<use href="#R" x="6.5" y="11.5"/><use href="#R" x="7.5" y="11.5"/><use href="#R" x="8.5" y="11.5"/><use href="#D" x="9.5" y="11.5"/>
<use href="#D" x="11.5" y="11.5"/><use href="#L" x="12.5" y="11.5"/><use href="#O" x="13.5" y="11.5"/><use href="#L" x="14.5" y="11.5"/>
<use href="#R" x="16.5" y="11.5"/><use href="#U" x="17.5" y="11.5"/><use href="#L" x="18.5" y="11.5"/><use href="#O" x="19.5" y="11.5"/>
<use href="#D" x="1.5" y="12.5"/><use href="#D" x="2.5" y="12.5"/><use href="#L" x="3.5" y="12.5"/><use href="#L" x="4.5" y="12.5"/>
<use href="#R" x="6.5" y="12.5"/><use href="#R" x="7.5" y="12.5"/><use href="#R" x="8.5" y="12.5"/><use href="#D" x="9.5" y="12.5"/>
<use href="#D" x="11.5" y="12.5"/><use href="#D" x="12.5" y="12.5"/><use href="#R" x="13.5" y="12.5"/><use href="#U" x="14.5" y="12.5"/>
<use href="#R" x="16.5" y="12.5"/><use href="#O" x="17.5" y="12.5"/><use href="#O" x="18.5" y="12.5"/><use href="#O" x="19.5" y="12.5"/>
<use href="#D" x="1.5" y="13.5"/><use href="#L" x="2.5" y="13.5"/><use href="#L" x="3.5" y="13.5"/><use href="#D" x="4.5" y="13.5"/>
<use href="#R" x="6.5" y="13.5"/><use href="#R" x="7.5" y="13.5"/><use href="#D" x="8.5" y="13.5"/><use href="#R" x="9.5" y="13.5"/><use href="#R" x="10.5" y="13.5"/>
<use href="#R" x="11.5" y="13.5"/><use href="#R" x="12.5" y="13.5"/><use href="#U" x="13.5" y="13.5"/><use href="#L" x="14.5" y="13.5"/>
<use href="#R" x="16.5" y="13.5"/><use href="#U" x="17.5" y="13.5"/><use href="#O" x="18.5" y="13.5"/><use href="#O" x="19.5" y="13.5"/>
<use href="#O" x="1.5" y="14.5"/><use href="#R" x="2.5" y="14.5"/><use href="#U" x="3.5" y="14.5"/><use href="#L" x="4.5" y="14.5"/>
<use href="#O" x="6.5" y="14.5"/><use href="#R" x="7.5" y="14.5"/><use href="#R" x="8.5" y="14.5"/><use href="#U" x="9.5" y="14.5"/>
<use href="#U" x="11.5" y="14.5"/><use href="#R" x="12.5" y="14.5"/><use href="#U" x="13.5" y="14.5"/><use href="#U" x="14.5" y="14.5"/>
<use href="#R" x="16.5" y="14.5"/><use href="#U" x="17.5" y="14.5"/><use href="#O" x="18.5" y="14.5"/><use href="#O" x="19.5" y="14.5"/>
<use href="#U" x="2.5" y="15.5"/><use href="#O" x="18.5" y="15.5"/>
<use href="#O" x="1.5" y="16.5"/><use href="#O" x="2.5" y="16.5"/><use href="#O" x="3.5" y="16.5"/><use href="#O" x="4.5" y="16.5"/><use href="#O" x="6.5" y="16.5"/><use href="#O" x="7.5" y="16.5"/><use href="#O" x="8.5" y="16.5"/><use href="#O" x="9.5" y="16.5"/><use href="#O" x="11.5" y="16.5"/><use href="#O" x="12.5" y="16.5"/><use href="#O" x="13.5" y="16.5"/><use href="#O" x="14.5" y="16.5"/><use href="#O" x="16.5" y="16.5"/><use href="#O" x="17.5" y="16.5"/><use href="#O" x="18.5" y="16.5"/><use href="#O" x="19.5" y="16.5"/>
<use href="#O" x="1.5" y="17.5"/><use href="#O" x="2.5" y="17.5"/><use href="#O" x="3.5" y="17.5"/><use href="#O" x="4.5" y="17.5"/><use href="#O" x="6.5" y="17.5"/><use href="#O" x="7.5" y="17.5"/><use href="#O" x="8.5" y="17.5"/><use href="#O" x="9.5" y="17.5"/><use href="#O" x="10.5" y="17.5"/><use href="#O" x="11.5" y="17.5"/><use href="#O" x="12.5" y="17.5"/><use href="#O" x="13.5" y="17.5"/><use href="#O" x="14.5" y="17.5"/><use href="#O" x="16.5" y="17.5"/><use href="#O" x="17.5" y="17.5"/><use href="#O" x="18.5" y="17.5"/><use href="#O" x="19.5" y="17.5"/>
<use href="#O" x="1.5" y="18.5"/><use href="#O" x="2.5" y="18.5"/><use href="#O" x="3.5" y="18.5"/><use href="#O" x="4.5" y="18.5"/><use href="#O" x="5.5" y="18.5"/><use href="#O" x="6.5" y="18.5"/><use href="#O" x="7.5" y="18.5"/><use href="#O" x="8.5" y="18.5"/><use href="#O" x="9.5" y="18.5"/><use href="#O" x="11.5" y="18.5"/><use href="#O" x="12.5" y="18.5"/><use href="#O" x="13.5" y="18.5"/><use href="#O" x="14.5" y="18.5"/><use href="#O" x="15.5" y="18.5"/><use href="#O" x="16.5" y="18.5"/><use href="#O" x="17.5" y="18.5"/><use href="#O" x="18.5" y="18.5"/><use href="#O" x="19.5" y="18.5"/>
<use href="#O" x="1.5" y="19.5"/><use href="#O" x="2.5" y="19.5"/><use href="#O" x="3.5" y="19.5"/><use href="#O" x="4.5" y="19.5"/><use href="#O" x="6.5" y="19.5"/><use href="#O" x="7.5" y="19.5"/><use href="#O" x="8.5" y="19.5"/><use href="#O" x="9.5" y="19.5"/><use href="#O" x="11.5" y="19.5"/><use href="#O" x="12.5" y="19.5"/><use href="#O" x="13.5" y="19.5"/><use href="#O" x="14.5" y="19.5"/><use href="#O" x="16.5" y="19.5"/><use href="#O" x="17.5" y="19.5"/><use href="#O" x="18.5" y="19.5"/><use href="#O" x="19.5" y="19.5"/>
</g>
</g>
</svg>
